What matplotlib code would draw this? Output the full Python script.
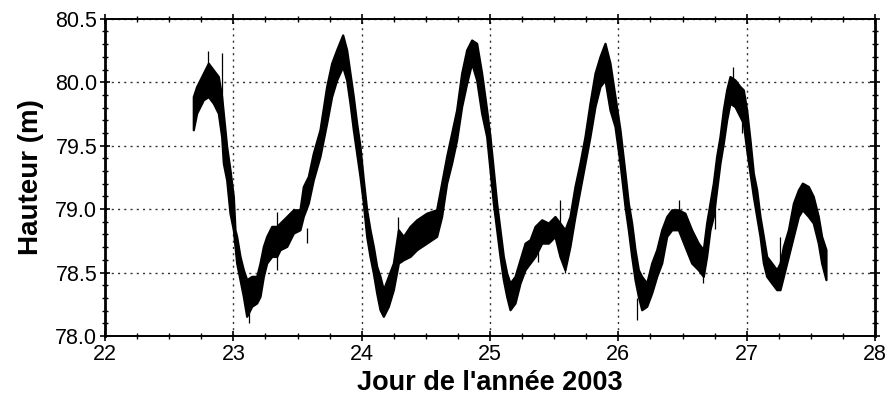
import matplotlib
matplotlib.use("Agg")
import matplotlib.pyplot as plt
from matplotlib.ticker import MultipleLocator, FormatStrFormatter

plt.rcParams['font.family'] = ['Liberation Sans', 'DejaVu Sans']

# Time (day of year 2003) and the envelope (low / high) of the noisy trace
day = [22.688, 22.714, 22.766, 22.805, 22.844, 22.883, 22.909, 22.922, 22.948, 22.974,
       23.000, 23.013, 23.026, 23.052, 23.078, 23.104, 23.143, 23.182, 23.208, 23.234,
       23.260, 23.299, 23.338, 23.364, 23.416, 23.468, 23.519, 23.545, 23.584, 23.623,
       23.675, 23.727, 23.766, 23.805, 23.852, 23.883, 23.909, 23.935, 23.961, 23.987,
       24.013, 24.039, 24.065, 24.091, 24.117, 24.143, 24.169, 24.208, 24.247, 24.286,
       24.325, 24.377, 24.429, 24.506, 24.584, 24.623, 24.662, 24.701, 24.740, 24.779,
       24.818, 24.857, 24.896, 24.935, 24.974, 25.000, 25.026, 25.052, 25.078, 25.104,
       25.130, 25.156, 25.195, 25.234, 25.273, 25.312, 25.351, 25.403, 25.455, 25.506,
       25.545, 25.584, 25.623, 25.662, 25.701, 25.740, 25.779, 25.818, 25.857, 25.896,
       25.935, 25.974, 26.013, 26.052, 26.078, 26.104, 26.130, 26.156, 26.182, 26.221,
       26.260, 26.299, 26.338, 26.377, 26.416, 26.468, 26.519, 26.571, 26.623, 26.662,
       26.688, 26.714, 26.740, 26.766, 26.792, 26.818, 26.844, 26.870, 26.909, 26.948,
       26.974, 27.000, 27.026, 27.052, 27.078, 27.104, 27.130, 27.156, 27.195, 27.234,
       27.260, 27.286, 27.325, 27.364, 27.403, 27.434, 27.481, 27.519, 27.558, 27.584,
       27.618]
high = [79.887, 79.966, 80.071, 80.150, 80.097, 80.045, 79.887, 79.756, 79.493, 79.310,
        79.100, 78.837, 78.785, 78.627, 78.522, 78.444, 78.470, 78.470, 78.575, 78.706,
        78.785, 78.864, 78.864, 78.890, 78.942, 78.995, 78.995, 79.178, 79.257, 79.441,
        79.625, 79.966, 80.150, 80.255, 80.373, 80.255, 80.071, 79.887, 79.677, 79.493,
        79.231, 78.995, 78.837, 78.706, 78.549, 78.470, 78.365, 78.470, 78.575, 78.837,
        78.785, 78.864, 78.916, 78.968, 78.995, 79.205, 79.415, 79.598, 79.782, 80.071,
        80.255, 80.333, 80.307, 80.071, 79.782, 79.572, 79.310, 79.047, 78.837, 78.627,
        78.496, 78.417, 78.470, 78.601, 78.732, 78.759, 78.864, 78.916, 78.890, 78.942,
        78.890, 78.837, 78.942, 79.178, 79.362, 79.572, 79.835, 80.071, 80.202, 80.307,
        80.150, 79.887, 79.625, 79.283, 79.047, 78.890, 78.680, 78.522, 78.470, 78.417,
        78.575, 78.680, 78.837, 78.942, 78.995, 78.995, 78.968, 78.837, 78.732, 78.680,
        78.890, 79.047, 79.205, 79.415, 79.572, 79.782, 79.940, 80.045, 80.018, 79.966,
        79.940, 79.782, 79.546, 79.283, 79.152, 78.942, 78.785, 78.627, 78.575, 78.522,
        78.575, 78.706, 78.837, 79.047, 79.152, 79.205, 79.178, 79.100, 78.942, 78.785,
        78.680]
low = [79.625, 79.756, 79.861, 79.887, 79.835, 79.756, 79.572, 79.362, 79.231, 78.968,
       78.837, 78.706, 78.575, 78.444, 78.312, 78.155, 78.234, 78.260, 78.312, 78.470,
       78.575, 78.627, 78.627, 78.680, 78.706, 78.811, 78.837, 78.942, 79.047, 79.231,
       79.415, 79.677, 79.887, 80.018, 80.123, 80.018, 79.835, 79.625, 79.441, 79.257,
       79.047, 78.785, 78.627, 78.496, 78.339, 78.207, 78.155, 78.234, 78.365, 78.575,
       78.601, 78.627, 78.680, 78.732, 78.785, 78.942, 79.205, 79.362, 79.546, 79.808,
       79.992, 80.150, 80.018, 79.756, 79.572, 79.310, 79.047, 78.837, 78.627, 78.444,
       78.312, 78.207, 78.260, 78.417, 78.522, 78.575, 78.627, 78.732, 78.732, 78.785,
       78.627, 78.522, 78.706, 78.942, 79.152, 79.362, 79.572, 79.808, 79.966, 80.018,
       79.782, 79.651, 79.362, 79.021, 78.837, 78.627, 78.444, 78.312, 78.207, 78.234,
       78.339, 78.470, 78.575, 78.785, 78.837, 78.837, 78.706, 78.575, 78.522, 78.470,
       78.627, 78.837, 78.942, 79.152, 79.362, 79.520, 79.703, 79.835, 79.808, 79.730,
       79.677, 79.467, 79.283, 79.100, 78.942, 78.785, 78.575, 78.470, 78.417, 78.365,
       78.365, 78.470, 78.627, 78.785, 78.942, 78.995, 78.942, 78.890, 78.732, 78.575,
       78.444]

# Isolated spikes of the trace: time, start value (in band), end value (tip)
spike_day = [22.805, 22.909, 23.125, 23.340, 23.338, 23.571, 24.286, 25.377, 25.545, 25.584,
             26.148, 26.470, 26.660, 26.753, 26.896, 26.961, 27.260]
spike_from = [80.10, 79.80, 78.25, 78.80, 78.70, 78.85, 78.70, 78.70, 78.85, 78.65,
              78.30, 78.90, 78.55, 79.10, 79.95, 79.80, 78.50]
spike_to = [80.25, 80.23, 78.10, 78.98, 78.52, 78.73, 78.94, 78.58, 79.07, 78.50,
            78.13, 79.07, 78.42, 78.84, 80.12, 79.60, 78.78]

x_ticks = [22, 23, 24, 25, 26, 27, 28]
y_ticks = [78.0, 78.5, 79.0, 79.5, 80.0, 80.5]

fig = plt.figure(figsize=(8.88, 4.03), dpi=100)
ax = fig.add_axes([105/888, 1-336/403, 770/888, (336-18.8)/403])

ax.fill_between(day, low, high, color='black', linewidth=1.6, edgecolor='black', zorder=3)
ax.vlines(spike_day, spike_from, spike_to, color='black', linewidth=0.9, zorder=3)

ax.set_xlim(22, 28)
ax.set_ylim(78.0, 80.5)
ax.set_xticks(x_ticks)
ax.set_yticks(y_ticks)
ax.yaxis.set_major_formatter(FormatStrFormatter('%.1f'))
ax.xaxis.set_minor_locator(MultipleLocator(0.25))
ax.yaxis.set_minor_locator(MultipleLocator(0.1))

ax.grid(True, which='major', color='#333333', linestyle=(0, (1.5, 3)), linewidth=1.0, zorder=1)

for side in ['left', 'right']:
    ax.spines[side].set_linewidth(2.0)
for side in ['top', 'bottom']:
    ax.spines[side].set_linewidth(1.4)

ax.tick_params(which='major', direction='inout', length=7, width=1.2, labelsize=15.5,
               top=True, right=True, pad=2)
ax.tick_params(which='minor', direction='inout', length=4, width=1.0, top=True, right=True)

ax.set_xlabel("Jour de l'année 2003", fontsize=19.5, fontweight='bold', labelpad=4)
ax.set_ylabel("Hauteur (m)", fontsize=20, fontweight='bold', labelpad=8)

fig.savefig('out.png', dpi=100)
